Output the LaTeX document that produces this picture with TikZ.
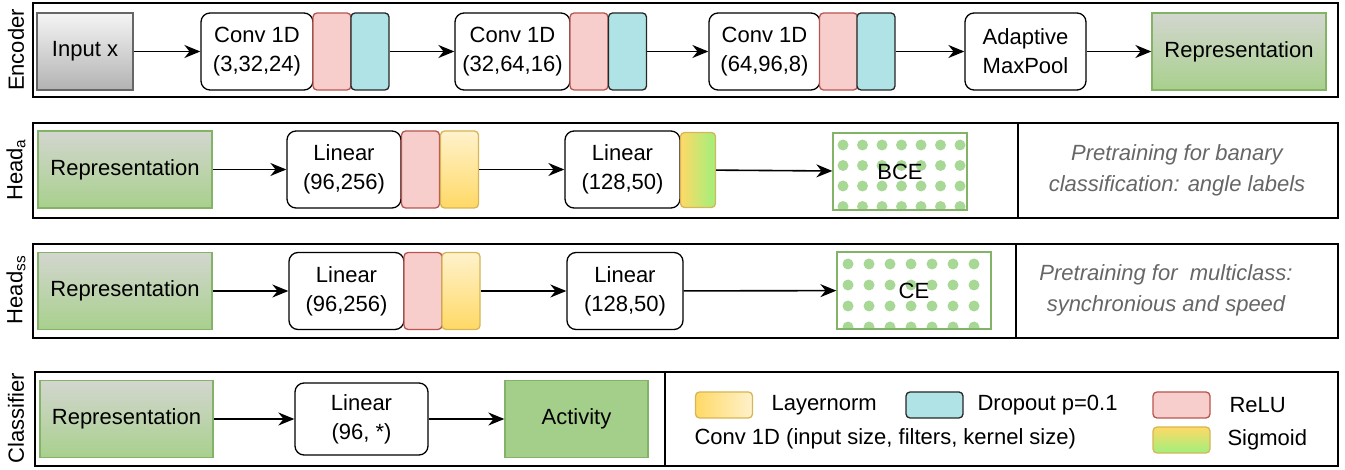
\documentclass[tikz,border=0pt]{standalone}
\usepackage{fontspec}
\setmainfont{Liberation Sans}
\usetikzlibrary{arrows.meta}
\definecolor{reluFill}{HTML}{F8CECC}
\definecolor{reluLine}{HTML}{B85450}
\definecolor{dropFill}{HTML}{B0E3E6}
\definecolor{lnTop}{HTML}{FFF2CC}
\definecolor{lnBot}{HTML}{FFD966}
\definecolor{lnLine}{HTML}{D6B656}
\definecolor{sigGreen}{HTML}{A0F07C}
\definecolor{repTop}{HTML}{D3D6CF}
\definecolor{repBot}{HTML}{A8D08D}
\definecolor{repLine}{HTML}{82B366}
\definecolor{actFill}{HTML}{A4CF8B}
\definecolor{dotGreen}{HTML}{A8D896}
\definecolor{noteGray}{HTML}{666666}
\tikzset{
  lbl/.style={font=\fontsize{22}{29}\selectfont},
  note/.style={font=\fontsize{22}{31}\selectfont\itshape, text=noteGray, align=center},
  frame/.style={draw, line width=1.8pt},
  layer/.style={draw, rounded corners=9pt, fill=white, line width=1.3pt, align=center,
    inner sep=0pt, minimum height=77pt, lbl},
  relu/.style={draw=reluLine, fill=reluFill, rounded corners=4pt, line width=1.3pt,
    inner sep=0pt, minimum width=38pt, minimum height=77pt},
  drop/.style={draw=black!85, fill=dropFill, rounded corners=4pt, line width=1.3pt,
    inner sep=0pt, minimum width=38pt, minimum height=77pt},
  lnorm/.style={draw=lnLine, top color=lnTop, bottom color=lnBot, rounded corners=4pt,
    line width=1.3pt, inner sep=0pt, minimum width=38pt, minimum height=77pt},
  sigm/.style={draw=lnLine, left color=lnBot, right color=sigGreen, rounded corners=4pt,
    line width=1.3pt, inner sep=0pt, minimum width=35pt, minimum height=75pt},
  rep/.style={draw=repLine, top color=repTop, bottom color=repBot, line width=1.3pt,
    inner sep=0pt, minimum width=174pt, minimum height=77pt, lbl},
  loss/.style={draw=repLine, line width=1.3pt, inner sep=0pt, minimum height=77pt, lbl},
  swatch/.style={rounded corners=4pt, line width=1.3pt, inner sep=0pt,
    minimum width=57pt, minimum height=26pt},
  flow/.style={-{Stealth[length=16pt,width=13pt]}, line width=1.6pt}
}

\begin{document}
\begin{tikzpicture}[x=1pt,y=-1pt]
\useasboundingbox (0,0) rectangle (1345,470);

% encoder
\draw[frame] (33,3) rectangle (1338,97);
\node[lbl, rotate=90] (encLbl) at (16,50) {Encoder};
\node[draw=black!60, top color=black!4, bottom color=black!30, line width=1.3pt, inner sep=0pt,
  minimum width=96pt, minimum height=77pt, lbl] (inp) at (85,51.5) {Input x};
\node[layer, minimum width=112pt] (conv1) at (257,51.5) {Conv 1D\\(3,32,24)};
\node[relu] (relu1) at (332,51.5) {};
\node[drop] (drop1) at (370,51.5) {};
\node[layer, minimum width=115pt] (conv2) at (512.5,51.5) {Conv 1D\\(32,64,16)};
\node[relu] (relu2) at (589,51.5) {};
\node[drop] (drop2) at (627.5,51.5) {};
\node[layer, minimum width=111pt] (conv3) at (764.5,51.5) {Conv 1D\\(64,96,8)};
\node[relu] (relu3) at (838.5,51.5) {};
\node[drop] (drop3) at (876,51.5) {};
\node[layer, minimum width=121pt] (pool) at (1025.5,51.5) {Adaptive\\MaxPool};
\node[rep] (rep0) at (1239,51.5) {Representation};
\draw[flow] (inp) -- (conv1);
\draw[flow] (drop1) -- (conv2);
\draw[flow] (drop2) -- (conv3);
\draw[flow] (drop3) -- (pool);
\draw[flow] (pool) -- (rep0);

% head a
\draw[frame] (33,123) rectangle (1338,218);
\draw[line width=1.3pt] (1018,123) -- (1018,218);
\node[lbl, rotate=90] (headALbl) at (16,170) {Head\textsubscript{a}};
\node[rep] (repA) at (125,169.5) {Representation};
\node[layer, minimum width=114pt] (linA1) at (344,169.5) {Linear\\(96,256)};
\node[relu] (reluA) at (420.5,169.5) {};
\node[lnorm] (lnA) at (459.5,169.5) {};
\node[layer, minimum width=115pt] (linA2) at (622.5,169.5) {Linear\\(128,50)};
\node[sigm] (sigA) at (698,170) {};
\begin{scope}
\clip (833,133) rectangle (967,210);
\foreach \i in {0,...,6}
  \foreach \j in {0,...,3}
    \fill[dotGreen] (843+19.5*\i,145+20.5*\j) circle (5.5);
\end{scope}
\node[loss, minimum width=134pt] (bce) at (900,171.5) {BCE};
\node[note] (noteA) at (1177,170) {Pretraining for banary\\classification: angle labels};
\draw[flow] (repA) -- (linA1);
\draw[flow] (lnA) -- (linA2);
\draw[flow] (sigA) -- (bce);

% head ss
\draw[frame] (33,244) rectangle (1338,338);
\draw[line width=1.3pt] (1016,244) -- (1016,338);
\node[lbl, rotate=90] (headSLbl) at (16,290) {Head\textsubscript{ss}};
\node[rep] (repS) at (125,291) {Representation};
\node[layer, minimum width=115pt] (linS1) at (346.5,291) {Linear\\(96,256)};
\node[relu] (reluS) at (423,291) {};
\node[lnorm] (lnS) at (461,291) {};
\node[layer, minimum width=116pt] (linS2) at (625,291) {Linear\\(128,50)};
\begin{scope}
\clip (837,252) rectangle (991,329);
\foreach \i in {0,...,6}
  \foreach \j in {0,...,3}
    \fill[dotGreen] (848+21*\i,264+21*\j) circle (5.5);
\end{scope}
\node[loss, minimum width=154pt] (ce) at (914,290.5) {CE};
\node[note] (noteS) at (1166,290) {Pretraining for\ \ multiclass:\\synchronious and speed};
\draw[flow] (repS) -- (linS1);
\draw[flow] (lnS) -- (linS2);
\draw[flow] (linS2) -- (ce);

% classifier and legend
\draw[frame] (35,372) rectangle (1338,466);
\draw[line width=1.3pt] (665,372) -- (665,466);
\node[lbl, rotate=90] (clsLbl) at (16,418) {Classifier};
\node[rep, minimum width=173pt] (repC) at (126.5,419) {Representation};
\node[layer, minimum width=133pt, minimum height=72pt] (linC) at (361.5,419) {Linear\\(96, *)};
\node[draw=repLine, fill=actFill, line width=1.3pt, inner sep=0pt, minimum width=143pt,
  minimum height=77pt, lbl] (act) at (576.5,419) {Activity};
\draw[flow] (repC) -- (linC);
\draw[flow] (linC) -- (act);
\node[swatch, draw=lnLine, left color=lnBot, right color=lnTop] (lgLN) at (724,405) {};
\node[lbl, anchor=west] (lgLNTxt) at (768,405) {Layernorm};
\node[swatch, draw=black!85, fill=dropFill] (lgDrop) at (934.5,405) {};
\node[lbl, anchor=west] (lgDropTxt) at (974,405) {Dropout p=0.1};
\node[swatch, draw=reluLine, fill=reluFill] (lgRelu) at (1181.5,405) {};
\node[lbl, anchor=west] (lgReluTxt) at (1226,405) {ReLU};
\node[lbl, anchor=west] (lgConv) at (691,439) {Conv 1D (input size, filters, kernel size)};
\node[swatch, draw=lnLine, top color=lnBot, bottom color=sigGreen] (lgSig) at (1181.5,440) {};
\node[lbl, anchor=west] (lgSigTxt) at (1224,440) {Sigmoid};
\end{tikzpicture}
\end{document}
